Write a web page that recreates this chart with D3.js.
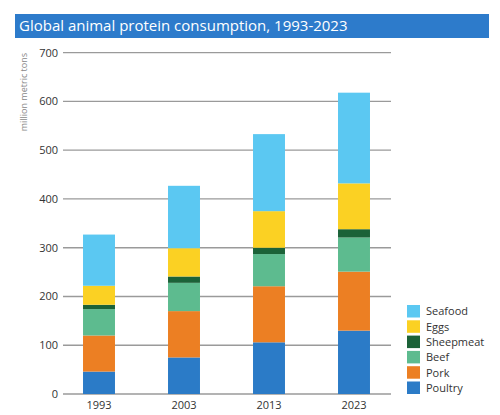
<!DOCTYPE html>
<html>
<head>
<meta charset="utf-8">
<script src="https://cdn.jsdelivr.net/npm/d3@7"></script>
<style>
  body { margin: 0; background: #fff; }
  svg { display: block; font-family: "Open Sans", "Noto Sans", sans-serif; }
</style>
</head>
<body>
<div id="chart"></div>
<script>
const width = 500;
const height = 415;

const years = ['1993', '2003', '2013', '2023'];
const categories = ['Poultry', 'Pork', 'Beef', 'Sheepmeat', 'Eggs', 'Seafood'];
const poultry = [46, 75, 106, 130];
const pork = [74, 95, 115, 121];
const beef = [54, 58, 66, 70];
const sheepmeat = [9, 13, 13, 17];
const eggs = [39, 58, 75, 94];
const seafood = [105, 128, 158, 186];
const yTicks = [0, 100, 200, 300, 400, 500, 600, 700];

const colors = {
    Poultry: '#2b7bc7',
    Pork: '#ec7f23',
    Beef: '#5dbb8f',
    Sheepmeat: '#1b6238',
    Eggs: '#fbd123',
    Seafood: '#5bc8f2'
};

// build rows for the stack
const series = { Poultry: poultry, Pork: pork, Beef: beef, Sheepmeat: sheepmeat, Eggs: eggs, Seafood: seafood };
const data = years.map((y, i) => {
    const row = { year: y };
    categories.forEach(c => { row[c] = series[c][i]; });
    return row;
});

const svg = d3.select('#chart')
    .append('svg')
    .attr('width', width)
    .attr('height', height);

// title bar
svg.append('rect')
    .attr('x', 15)
    .attr('y', 14)
    .attr('width', 474)
    .attr('height', 24)
    .attr('fill', '#2d7bcb');

svg.append('text')
    .attr('x', 19)
    .attr('y', 31)
    .attr('fill', '#fff')
    .style('font-size', '15px')
    .text('Global animal protein consumption, 1993-2023');

const y = d3.scaleLinear()
    .domain([0, 700])
    .range([394, 52.7]);

const x = d3.scaleBand()
    .domain(years)
    .range([56.5, 396.5])
    .paddingInner(0.624)
    .paddingOuter(0.312);

// grid lines
svg.append('g')
    .selectAll('line')
    .data(yTicks)
    .enter()
    .append('line')
    .attr('x1', 63)
    .attr('x2', 391)
    .attr('y1', d => y(d))
    .attr('y2', d => y(d))
    .attr('stroke', '#9a9a9a')
    .attr('stroke-width', 1.3);

svg.append('g')
    .selectAll('text')
    .data(yTicks)
    .enter()
    .append('text')
    .attr('x', 58)
    .attr('y', d => y(d))
    .attr('dy', '0.35em')
    .attr('text-anchor', 'end')
    .attr('fill', '#333')
    .style('font-size', '11px')
    .text(d => d);

svg.append('text')
    .attr('transform', 'translate(27,53) rotate(-90)')
    .attr('text-anchor', 'end')
    .attr('fill', '#888')
    .style('font-size', '9px')
    .text('million metric tons');

const stacked = d3.stack().keys(categories)(data);

svg.append('g')
    .selectAll('g')
    .data(stacked)
    .enter()
    .append('g')
    .attr('fill', d => colors[d.key])
    .selectAll('rect')
    .data(d => d)
    .enter()
    .append('rect')
    .attr('x', d => x(d.data.year))
    .attr('y', d => y(d[1]))
    .attr('width', x.bandwidth())
    .attr('height', d => y(d[0]) - y(d[1]));

// x labels
svg.append('g')
    .selectAll('text')
    .data(years)
    .enter()
    .append('text')
    .attr('x', d => x(d) + x.bandwidth() / 2)
    .attr('y', 409)
    .attr('text-anchor', 'middle')
    .attr('fill', '#333')
    .style('font-size', '11px')
    .text(d => d);

// legend, top to bottom is reverse of stack order
const legendItems = categories.slice().reverse();
const legend = svg.append('g')
    .selectAll('g')
    .data(legendItems)
    .enter()
    .append('g')
    .attr('transform', (d, i) => `translate(407,${305 + i * 15.3})`);

legend.append('rect')
    .attr('width', 13)
    .attr('height', 12.5)
    .attr('fill', d => colors[d]);

legend.append('text')
    .attr('x', 19)
    .attr('y', 6.5)
    .attr('dy', '0.35em')
    .attr('fill', '#333')
    .style('font-size', '11px')
    .text(d => d);
</script>
</body>
</html>
